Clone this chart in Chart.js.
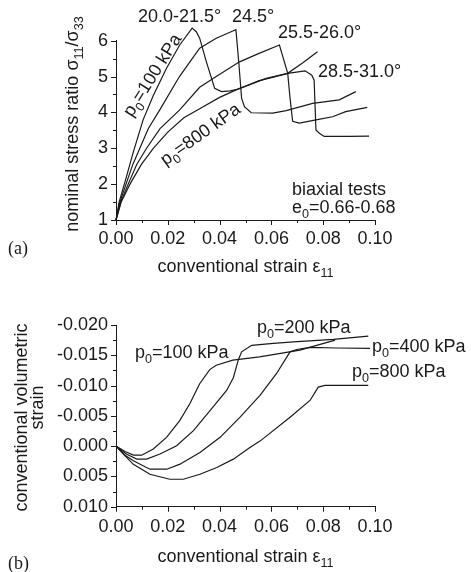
<!DOCTYPE html>
<html>
<head>
<meta charset="utf-8">
<script src="https://cdn.jsdelivr.net/npm/chart.js@4.4.1/dist/chart.umd.min.js"></script>
<style>
  body { margin: 0; background: #fff; }
  canvas { position: absolute; left: 0; }
  #stress { top: 0; }
  #vol { top: 290px; }
</style>
</head>
<body>
<canvas id="stress" width="471" height="290"></canvas>
<canvas id="vol" width="471" height="282"></canvas>
<script>
// (a) nominal stress ratio vs conventional strain, biaxial tests
const strain100 = [0, 0.0012, 0.0035, 0.0067, 0.0105, 0.0144, 0.0195, 0.0246, 0.0294, 0.0310, 0.0323, 0.0349, 0.0381, 0.0407, 0.0440, 0.0477, 0.0550, 0.0615, 0.0663, 0.0720, 0.0778];
const ratio100  = [1, 1.5, 2.07, 2.9, 3.8, 4.47, 5.23, 5.88, 6.35, 6.25, 6.07, 5.41, 4.67, 4.58, 4.60, 4.66, 4.88, 5.00, 5.09, 5.38, 5.69];

const strain200 = [0, 0.0015, 0.0041, 0.0065, 0.0092, 0.0125, 0.0169, 0.0245, 0.0323, 0.0387, 0.0451, 0.0463, 0.0474, 0.0485, 0.0496, 0.0522, 0.0605, 0.0657, 0.0759, 0.0862, 0.0926];
const ratio200  = [1, 1.5, 2.05, 2.55, 3.0, 3.55, 4.07, 5.0, 5.79, 6.07, 6.27, 6.31, 5.4, 4.39, 4.16, 3.99, 3.98, 4.05, 4.25, 4.35, 4.58];

const strain400 = [0, 0.0018, 0.0047, 0.0080, 0.0118, 0.0170, 0.0246, 0.0323, 0.0387, 0.0477, 0.0550, 0.0631, 0.0663, 0.0672, 0.0682, 0.0708, 0.0772, 0.0836, 0.0887, 0.0970];
const ratio400  = [1, 1.5, 2.0, 2.55, 3.0, 3.55, 4.07, 4.7, 5.0, 5.41, 5.64, 5.88, 5.09, 4.4, 3.75, 3.70, 3.79, 3.88, 4.02, 4.14];

const strain800 = [0, 0.0020, 0.0054, 0.0098, 0.0144, 0.0200, 0.0262, 0.0323, 0.0400, 0.0477, 0.0580, 0.0663, 0.0730, 0.0756, 0.0765, 0.0772, 0.0785, 0.0804, 0.0900, 0.0977];
const ratio800  = [1, 1.5, 2.0, 2.55, 3.0, 3.45, 3.85, 4.1, 4.42, 4.67, 4.95, 5.09, 5.16, 5.04, 4.9, 3.51, 3.42, 3.33, 3.33, 3.34];

// (b) conventional volumetric strain vs conventional strain
const axial100 = [0, 0.0035, 0.0067, 0.0099, 0.0144, 0.0195, 0.0246, 0.0285, 0.0323, 0.0362, 0.0387, 0.0451, 0.0554, 0.0710, 0.0846];
const vol100   = [0, 0.0009, 0.00148, 0.0015, 0.00048, -0.00145, -0.00422, -0.0070, -0.0103, -0.01264, -0.01336, -0.01419, -0.01475, -0.01585, -0.01751];

const axial200 = [0, 0.0040, 0.0080, 0.0118, 0.0170, 0.0234, 0.0299, 0.0363, 0.0427, 0.0453, 0.0472, 0.0485, 0.0524, 0.0607, 0.0685, 0.0839, 0.0974];
const vol200   = [0, 0.0013, 0.00215, 0.00215, 0.00131, -0.00007, -0.00256, -0.00588, -0.0092, -0.0113, -0.01419, -0.01557, -0.01665, -0.01696, -0.01723, -0.01762, -0.01817];

const axial400 = [0, 0.0035, 0.0067, 0.0131, 0.0196, 0.0247, 0.0324, 0.0402, 0.0479, 0.0556, 0.0620, 0.0672, 0.0698, 0.0749, 0.0850, 0.0981];
const vol400   = [0, 0.0015, 0.00243, 0.00381, 0.00381, 0.00298, 0.00105, -0.00145, -0.0048, -0.00837, -0.0120, -0.01557, -0.01596, -0.0163, -0.0162, -0.01613];

const axial800 = [0, 0.0035, 0.0067, 0.0131, 0.0208, 0.0260, 0.0324, 0.0389, 0.0453, 0.0517, 0.0556, 0.0672, 0.0749, 0.0781, 0.0807, 0.0974];
const vol800   = [0, 0.0016, 0.0030, 0.00464, 0.00547, 0.00547, 0.00464, 0.00354, 0.00215, 0.00022, -0.00083, -0.00477, -0.00754, -0.00975, -0.01003, -0.01003];

// tick labels
const strainTicks = [0, 0.02, 0.04, 0.06, 0.08, 0.10];
const ratioTicks = [1, 2, 3, 4, 5, 6];
const volTicks = [-0.020, -0.015, -0.010, -0.005, 0.000, 0.005, 0.010];

const FONT = "'Liberation Sans', Arial, sans-serif";
const SERIF = "'Liberation Serif', 'Times New Roman', serif";
const INK = '#1a1a1a';

Chart.defaults.font.family = FONT;
Chart.defaults.font.size = 18;
Chart.defaults.color = INK;

function line(xs, ys) {
  return {
    data: xs.map((x, i) => ({ x: x, y: ys[i] })),
    showLine: true,
    borderColor: INK,
    borderWidth: 1.2,
    pointRadius: 0,
    tension: 0,
    fill: false,
    clip: false
  };
}

// text with subscripts; parts = [[text, isSub], ...]
function rich(ctx, parts, x, y, opt) {
  opt = opt || {};
  const size = opt.size || 18;
  const fam = opt.family || FONT;
  ctx.save();
  ctx.translate(x, y);
  if (opt.angle) ctx.rotate(opt.angle * Math.PI / 180);
  ctx.fillStyle = INK;
  ctx.textBaseline = 'alphabetic';
  ctx.textAlign = 'left';
  let w = 0;
  parts.forEach(p => {
    ctx.font = (p[1] ? size * 0.7 : size) + 'px ' + fam;
    w += ctx.measureText(p[0]).width;
  });
  let cx = opt.align === 'center' ? -w / 2 : 0;
  const dy = opt.dy || 0;
  parts.forEach(p => {
    ctx.font = (p[1] ? size * 0.7 : size) + 'px ' + fam;
    ctx.fillText(p[0], cx, dy + (p[1] ? size * 0.28 : 0));
    cx += ctx.measureText(p[0]).width;
  });
  ctx.restore();
}

// outward major + minor tick marks
function tickMarks(xStep, yStep) {
  return {
    id: 'tickMarks',
    afterDraw(chart) {
      const ctx = chart.ctx, a = chart.chartArea;
      const x = chart.scales.x, y = chart.scales.y;
      ctx.save();
      ctx.strokeStyle = INK;
      ctx.lineWidth = 1;
      ctx.beginPath();
      for (let i = 0; x.min + i * xStep <= x.max + 1e-9; i++) {
        const px = Math.round(x.getPixelForValue(x.min + i * xStep)) + 0.5;
        ctx.moveTo(px, a.bottom);
        ctx.lineTo(px, a.bottom + (i % 2 === 0 ? 5 : 3));
      }
      for (let i = 0; y.min + i * yStep <= y.max + 1e-9; i++) {
        const py = Math.round(y.getPixelForValue(y.min + i * yStep)) + 0.5;
        ctx.moveTo(a.left, py);
        ctx.lineTo(a.left - (i % 2 === 0 ? 5 : 3), py);
      }
      ctx.stroke();
      ctx.restore();
    }
  };
}

function axisOpts(extra) {
  return Object.assign({
    type: 'linear',
    grid: { display: false, drawTicks: false, tickLength: 0 },
    border: { display: true, color: INK, width: 1 }
  }, extra);
}

const stressText = {
  id: 'stressText',
  afterDraw(chart) {
    const ctx = chart.ctx;
    rich(ctx, [['20.0-21.5°', 0]], 138, 22);
    rich(ctx, [['24.5°', 0]], 232, 22);
    rich(ctx, [['25.5-26.0°', 0]], 278, 38);
    rich(ctx, [['28.5-31.0°', 0]], 318, 77);
    rich(ctx, [['biaxial tests', 0]], 292, 195);
    rich(ctx, [['e', 0], ['0', 1], ['=0.66-0.68', 0]], 292, 213);
    rich(ctx, [['p', 0], ['0', 1], ['=100 kPa', 0]], 152, 75, { angle: -57.7, align: 'center', dy: 6 });
    rich(ctx, [['p', 0], ['0', 1], ['=800 kPa', 0]], 200, 134, { angle: -35.5, align: 'center', dy: 6 });
    rich(ctx, [['conventional strain ε', 0], ['11', 1]], 245.5, 272, { align: 'center' });
    rich(ctx, [['nominal stress ratio σ', 0], ['11', 1], ['/σ', 0], ['33', 1]], 78, 124, { angle: -90, align: 'center' });
    rich(ctx, [['(a)', 0]], 8, 254, { family: SERIF });
  }
};

const volText = {
  id: 'volText',
  afterDraw(chart) {
    const ctx = chart.ctx;
    rich(ctx, [['p', 0], ['0', 1], ['=100 kPa', 0]], 135, 68);
    rich(ctx, [['p', 0], ['0', 1], ['=200 kPa', 0]], 257, 43);
    rich(ctx, [['p', 0], ['0', 1], ['=400 kPa', 0]], 372, 62);
    rich(ctx, [['p', 0], ['0', 1], ['=800 kPa', 0]], 352, 87);
    rich(ctx, [['conventional strain ε', 0], ['11', 1]], 245.5, 272, { align: 'center' });
    rich(ctx, [['conventional volumetric', 0]], 27, 127.5, { angle: -90, align: 'center' });
    rich(ctx, [['strain', 0]], 43, 117.5, { angle: -90, align: 'center' });
    rich(ctx, [['(b)', 0]], 8, 279, { family: SERIF });
  }
};

new Chart(document.getElementById('stress'), {
  type: 'scatter',
  data: {
    datasets: [
      line(strain100, ratio100),
      line(strain200, ratio200),
      line(strain400, ratio400),
      line(strain800, ratio800)
    ]
  },
  options: {
    responsive: false,
    animation: false,
    events: [],
    layout: { padding: { left: 0, right: 96, top: 40.7, bottom: 0 } },
    plugins: { legend: { display: false }, tooltip: { enabled: false } },
    scales: {
      x: axisOpts({
        min: 0, max: 0.1,
        afterFit: s => { s.height = 70; },
        afterBuildTicks: s => { s.ticks = strainTicks.map(v => ({ value: v })); },
        ticks: { padding: 8, autoSkip: false, maxRotation: 0, callback: v => v.toFixed(2) }
      }),
      y: axisOpts({
        min: 1, max: 6,
        afterFit: s => { s.width = 116; },
        afterBuildTicks: s => { s.ticks = ratioTicks.map(v => ({ value: v })); },
        ticks: { padding: 8, autoSkip: false, callback: v => String(v) }
      })
    }
  },
  plugins: [tickMarks(0.01, 0.5), stressText]
});

new Chart(document.getElementById('vol'), {
  type: 'scatter',
  data: {
    datasets: [
      line(axial100, vol100),
      line(axial200, vol200),
      line(axial400, vol400),
      line(axial800, vol800)
    ]
  },
  options: {
    responsive: false,
    animation: false,
    events: [],
    layout: { padding: { left: 0, right: 96, top: 35, bottom: 0 } },
    plugins: { legend: { display: false }, tooltip: { enabled: false } },
    scales: {
      x: axisOpts({
        min: 0, max: 0.1,
        afterFit: s => { s.height = 65.3; },
        afterBuildTicks: s => { s.ticks = strainTicks.map(v => ({ value: v })); },
        ticks: { padding: 10, autoSkip: false, maxRotation: 0, callback: v => v.toFixed(2) }
      }),
      y: axisOpts({
        min: -0.02, max: 0.01, reverse: true,
        afterFit: s => { s.width = 116; },
        afterBuildTicks: s => { s.ticks = volTicks.map(v => ({ value: v })); },
        ticks: { padding: 8, autoSkip: false, callback: v => v.toFixed(3) }
      })
    }
  },
  plugins: [tickMarks(0.01, 0.0025), volText]
});
</script>
</body>
</html>
